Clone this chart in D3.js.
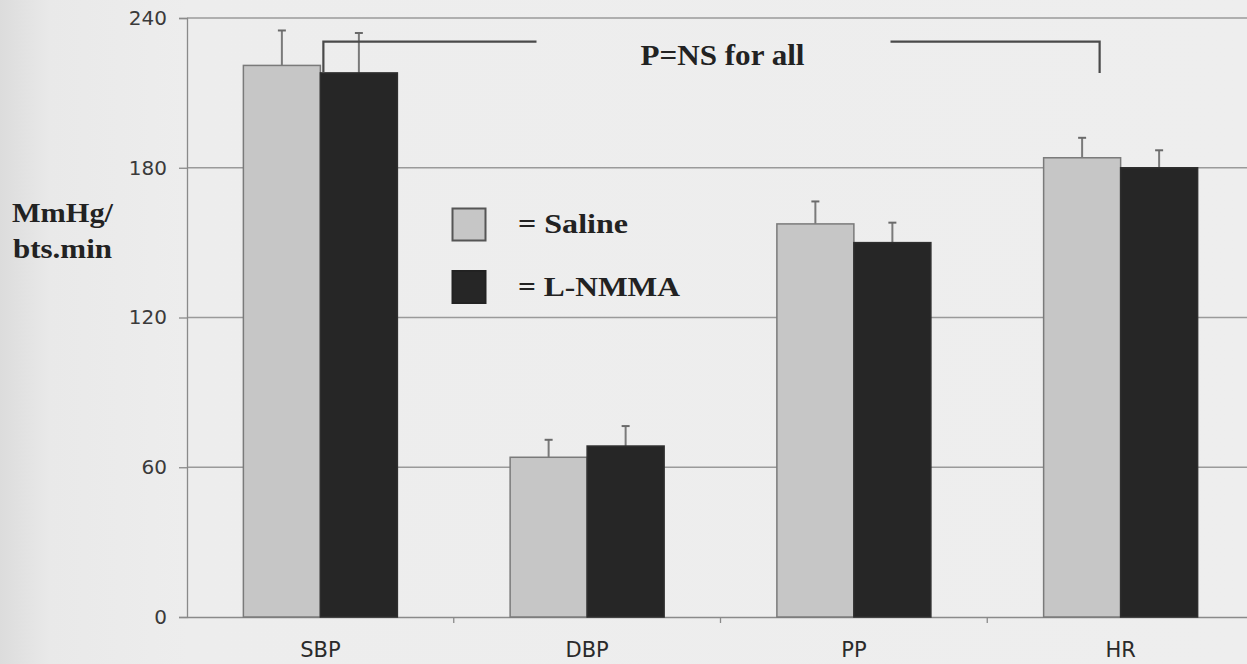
<!DOCTYPE html>
<html>
<head>
<meta charset="utf-8">
<script src="https://cdn.jsdelivr.net/npm/d3@7/dist/d3.min.js"></script>
<style>
  html, body { margin: 0; padding: 0; background: #ececec; }
  svg { display: block; }
</style>
</head>
<body>
<svg id="chart" width="1247" height="664"></svg>
<script>
// ---- data ----
const categories = ["SBP", "DBP", "PP", "HR"];
const seriesNames = ["Saline", "L-NMMA"];
const salineValues = [221, 64, 157.5, 184];
const salineErrors = [14, 7, 9, 8];
const lnmmaValues = [218, 68.5, 150, 180];
const lnmmaErrors = [16, 8, 8, 7];
const yTickValues = [0, 60, 120, 180, 240];
const annotationText = "P=NS for all";
const bracketValue = 230.5;

// ---- layout ----
const W = 1247, H = 664;
const plotLeft = 187, plotTop = 18, plotBottom = 617, plotRight = 1254;
const pairWidth = 154;
const colors = { "Saline": "#c6c6c6", "L-NMMA": "#262626" };

const svg = d3.select("#chart");

// background with slight scan shading on left
const defs = svg.append("defs");
const grad = defs.append("linearGradient").attr("id", "bg").attr("x1", "0").attr("x2", "1").attr("y1", "0").attr("y2", "0");
grad.append("stop").attr("offset", "0").attr("stop-color", "#dcdcdc");
grad.append("stop").attr("offset", "0.04").attr("stop-color", "#e9e9e9");
grad.append("stop").attr("offset", "0.15").attr("stop-color", "#ededed");
grad.append("stop").attr("offset", "1").attr("stop-color", "#eeeeee");
svg.append("rect").attr("width", W).attr("height", H).attr("fill", "url(#bg)");

const y = d3.scaleLinear().domain([0, 240]).range([plotBottom, plotTop]);
const x0 = d3.scaleBand().domain(categories).range([plotLeft, plotRight]).padding(0);
const bw = x0.bandwidth();
const x1 = d3.scaleBand().domain(seriesNames).range([(bw - pairWidth) / 2, (bw + pairWidth) / 2]).padding(0);

// gridlines
svg.append("g").selectAll("line").data(yTickValues.filter(v => v > 0)).join("line")
  .attr("x1", plotLeft).attr("x2", W)
  .attr("y1", d => y(d)).attr("y2", d => y(d))
  .attr("stroke", "#9a9a9a").attr("stroke-width", 1.3);

// y axis
const yAxis = d3.axisLeft(y).tickValues(yTickValues).tickSize(8).tickPadding(12);
const gy = svg.append("g").attr("transform", `translate(${plotLeft},0)`).call(yAxis);
gy.select(".domain").attr("stroke", "#8a8a8a").attr("stroke-width", 1.3);
gy.selectAll(".tick line").attr("stroke", "#8a8a8a").attr("stroke-width", 1.3);
gy.selectAll(".tick text").attr("font-family", "'DejaVu Sans', Verdana, sans-serif")
  .attr("font-size", 20).attr("fill", "#3a3a3a");

// x axis
const xAxis = d3.axisBottom(x0).tickSize(0).tickPadding(25);
const gx = svg.append("g").attr("transform", `translate(0,${plotBottom})`).call(xAxis);
gx.select(".domain").attr("stroke", "#8a8a8a").attr("stroke-width", 1.5);
gx.selectAll(".tick text").attr("font-family", "'DejaVu Sans', Verdana, sans-serif")
  .attr("font-size", 21).attr("fill", "#2a2a2a");
// category separator ticks
svg.append("g").selectAll("line").data(categories.slice(1)).join("line")
  .attr("x1", d => x0(d)).attr("x2", d => x0(d))
  .attr("y1", plotBottom).attr("y2", plotBottom + 6)
  .attr("stroke", "#8a8a8a").attr("stroke-width", 1.3);

// bars
const rows = categories.map((c, i) => ({
  cat: c,
  vals: [
    { s: "Saline", v: salineValues[i], e: salineErrors[i] },
    { s: "L-NMMA", v: lnmmaValues[i], e: lnmmaErrors[i] }
  ]
}));
const groups = svg.append("g").selectAll("g").data(rows).join("g")
  .attr("transform", d => `translate(${x0(d.cat)},0)`);

// error bars (drawn behind bar tops)
groups.selectAll("g.err").data(d => d.vals).join("g").attr("class", "err")
  .each(function (d) {
    const g = d3.select(this);
    const cx = x1(d.s) + x1.bandwidth() / 2;
    g.append("line").attr("x1", cx).attr("x2", cx).attr("y1", y(d.v)).attr("y2", y(d.v + d.e))
      .attr("stroke", "#7a7a7a").attr("stroke-width", 2);
    g.append("line").attr("x1", cx - 4).attr("x2", cx + 4).attr("y1", y(d.v + d.e)).attr("y2", y(d.v + d.e))
      .attr("stroke", "#6a6a6a").attr("stroke-width", 2);
  });

groups.selectAll("rect").data(d => d.vals).join("rect")
  .attr("x", d => x1(d.s))
  .attr("y", d => y(d.v))
  .attr("width", x1.bandwidth())
  .attr("height", d => y(0) - y(d.v))
  .attr("fill", d => colors[d.s])
  .attr("stroke", d => d.s === "Saline" ? "#7a7a7a" : "#2e2e2e")
  .attr("stroke-width", 1.5);

// significance bracket
const bx1 = x0("SBP") + x1("L-NMMA") + 3;
const bx2 = x0("HR") + x1("Saline") + 56;
const by = y(bracketValue);
const bEnd = y(lnmmaValues[0]);
const textX = (bx1 + bx2) / 2 + 11;
const br = svg.append("g").attr("stroke", "#4a4a4a").attr("stroke-width", 2.2).attr("fill", "none");
br.append("path").attr("d", `M${bx1},${bEnd}V${by}H${textX - 186}`);
br.append("path").attr("d", `M${textX + 168},${by}H${bx2}V${bEnd}`);
svg.append("text").attr("x", textX).attr("y", 65).attr("text-anchor", "middle")
  .attr("font-family", "'Liberation Serif', 'Times New Roman', serif").attr("font-weight", "bold")
  .attr("font-size", 29).attr("fill", "#222")
  .attr("textLength", 164).attr("lengthAdjust", "spacingAndGlyphs")
  .text(annotationText);

// legend
const legend = svg.append("g").attr("transform", "translate(452,208)");
const legendLabels = ["= Saline", "= L-NMMA"];
const legendWidths = [110, 162];
seriesNames.forEach((s, i) => {
  const g = legend.append("g").attr("transform", `translate(0,${i * 62.5})`);
  g.append("rect").attr("x", 0.5).attr("y", 0.5).attr("width", 33).attr("height", 32)
    .attr("fill", colors[s]).attr("stroke", i === 0 ? "#555" : "#222").attr("stroke-width", 2);
  g.append("text").attr("x", 66).attr("y", 25)
    .attr("font-family", "'Liberation Serif', 'Times New Roman', serif").attr("font-weight", "bold")
    .attr("font-size", 28).attr("fill", "#222")
    .attr("textLength", legendWidths[i]).attr("lengthAdjust", "spacingAndGlyphs")
    .text(legendLabels[i]);
});

// y label
const ylab = svg.append("text")
  .attr("font-family", "'Liberation Serif', 'Times New Roman', serif").attr("font-weight", "bold")
  .attr("font-size", 28).attr("fill", "#222");
ylab.append("tspan").attr("x", 12).attr("y", 222).attr("textLength", 101).attr("lengthAdjust", "spacingAndGlyphs").text("MmHg/");
ylab.append("tspan").attr("x", 13).attr("y", 258).attr("textLength", 99).attr("lengthAdjust", "spacingAndGlyphs").text("bts.min");
</script>
</body>
</html>
